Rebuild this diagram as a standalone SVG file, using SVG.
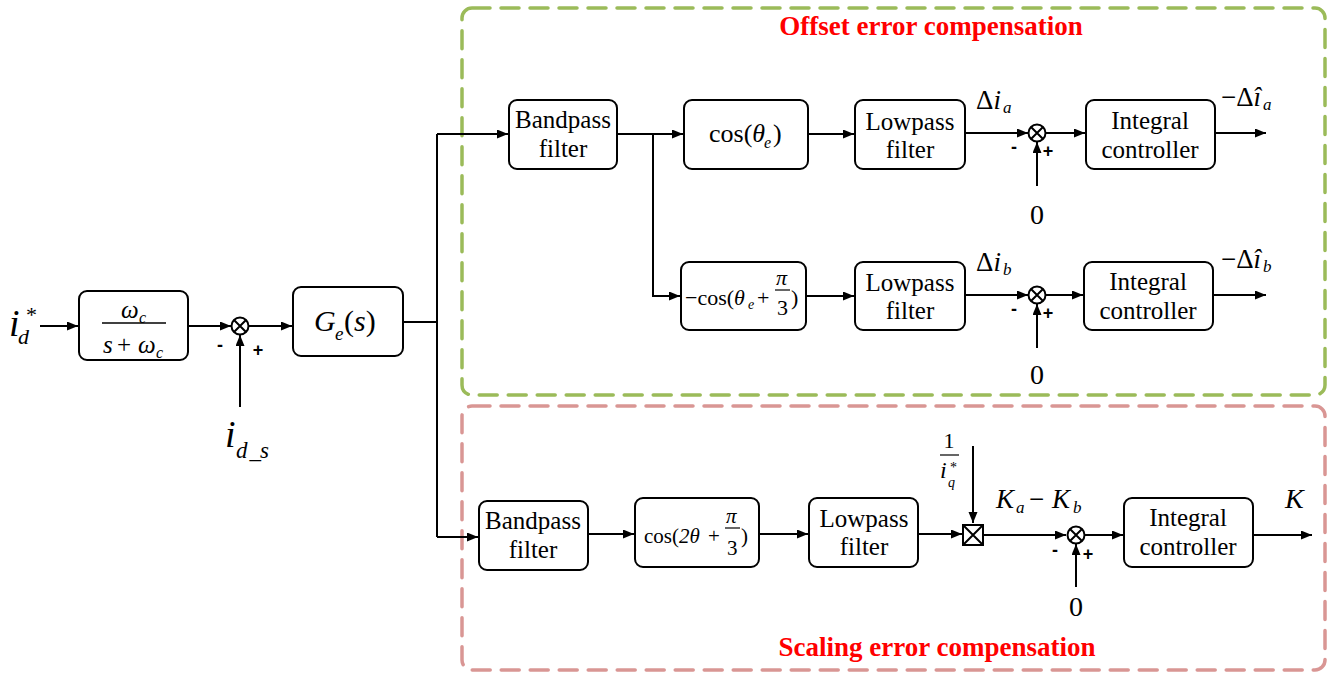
<svg xmlns="http://www.w3.org/2000/svg" width="1340" height="679" viewBox="0 0 1340 679">
  <defs>
    <marker id="arr" markerUnits="userSpaceOnUse" markerWidth="12" markerHeight="10" refX="11" refY="4.5" orient="auto">
      <path d="M0,0 L11,4.5 L0,9 z" fill="#000"/>
    </marker>
    <style>
      .blk { fill: #fff; stroke: #000; stroke-width: 2; }
      .ln { fill: none; stroke: #000; stroke-width: 2; }
      .ar { fill: none; stroke: #000; stroke-width: 2; marker-end: url(#arr); }
      .t { font-family: "Liberation Serif", "Times New Roman", serif; font-size: 25px; fill: #000; text-anchor: middle; }
      .m { font-family: "Liberation Serif", "Times New Roman", serif; fill: #000; }
      .it { font-style: italic; }
      .sg { font-family: "Liberation Sans", Arial, sans-serif; font-weight: bold; font-size: 18px; fill: #000; text-anchor: middle; }
      .ttl { font-family: "Liberation Serif", "Times New Roman", serif; font-weight: bold; font-size: 27px; fill: #ff0000; text-anchor: middle; }
      .zone-g { fill: none; stroke: #9bbb59; stroke-width: 3.5; stroke-dasharray: 18 11; stroke-linecap: round; }
      .zone-r { fill: none; stroke: #d99694; stroke-width: 3.5; stroke-dasharray: 18 11; stroke-linecap: round; }
    </style>
    <!-- summing junction: circle with a cross -->
    <g id="sum">
      <circle cx="0" cy="0" r="8.5" fill="#fff" stroke="#000" stroke-width="2"/>
      <path d="M-6,-6 L6,6 M6,-6 L-6,6" stroke="#000" stroke-width="2"/>
    </g>
  </defs>

  <rect width="1340" height="679" fill="#fff"/>

  <!-- compensation zones -->
  <g id="zone-offset">
    <rect class="zone-g" x="462" y="8" width="863" height="387" rx="10"/>
    <text class="ttl" x="931" y="35">Offset error compensation</text>
  </g>
  <g id="zone-scaling">
    <rect class="zone-r" x="462" y="406" width="863" height="264" rx="10"/>
    <text class="ttl" x="937" y="656">Scaling error compensation</text>
  </g>

  <!-- connectors -->
  <g id="connectors">
    <line class="ar" x1="40" y1="326" x2="78" y2="326"/>
    <line class="ar" x1="188" y1="326" x2="231" y2="326"/>
    <line class="ar" x1="240" y1="407" x2="240" y2="335"/>
    <line class="ar" x1="249" y1="326" x2="292" y2="326"/>
    <polyline class="ln" points="403,322 437,322"/>
    <line class="ln" x1="437" y1="134" x2="437" y2="537"/>
    <line class="ar" x1="437" y1="134" x2="508" y2="134"/>
    <line class="ar" x1="437" y1="537" x2="478" y2="537"/>

    <!-- upper branch -->
    <line class="ar" x1="617" y1="134" x2="683" y2="134"/>
    <polyline class="ar" points="653,134 653,296 680,296"/>
    <line class="ar" x1="808" y1="134" x2="854" y2="134"/>
    <line class="ar" x1="965" y1="133" x2="1028" y2="133"/>
    <line class="ar" x1="1037" y1="186" x2="1037" y2="142"/>
    <line class="ar" x1="1046" y1="133" x2="1085" y2="133"/>
    <line class="ar" x1="1215" y1="133" x2="1266" y2="133"/>

    <!-- lower branch -->
    <line class="ar" x1="806" y1="296" x2="854" y2="296"/>
    <line class="ar" x1="965" y1="295" x2="1028" y2="295"/>
    <line class="ar" x1="1037" y1="348" x2="1037" y2="304"/>
    <line class="ar" x1="1046" y1="295" x2="1083" y2="295"/>
    <line class="ar" x1="1213" y1="295" x2="1266" y2="295"/>

    <!-- scaling chain -->
    <line class="ar" x1="588" y1="534" x2="634" y2="534"/>
    <line class="ar" x1="759" y1="534" x2="808" y2="534"/>
    <line class="ar" x1="918" y1="534" x2="962" y2="534"/>
    <line class="ar" x1="973" y1="446" x2="973" y2="523"/>
    <line class="ar" x1="984" y1="535" x2="1066" y2="535"/>
    <line class="ar" x1="1076" y1="587" x2="1076" y2="544"/>
    <line class="ar" x1="1085" y1="535" x2="1123" y2="535"/>
    <line class="ar" x1="1253" y1="535" x2="1312" y2="535"/>
  </g>

  <!-- input reference -->
  <g id="in-idref">
    <text class="m it" x="9" y="336" font-size="38">i</text>
    <text class="m it" x="18" y="344" font-size="22">d</text>
    <text class="m" x="26" y="322" font-size="22">*</text>
  </g>

  <!-- first-order filter -->
  <g id="lpf-first">
    <rect class="blk" x="79" y="291" width="109" height="69" rx="8"/>
    <text class="m it" x="121" y="318" font-size="25">ω</text>
    <text class="m it" x="139" y="323" font-size="16">c</text>
    <line x1="102" y1="323" x2="166" y2="323" stroke="#000" stroke-width="1.5"/>
    <text class="m it" x="103" y="353" font-size="25">s</text>
    <text class="m" x="117" y="353" font-size="25">+</text>
    <text class="m it" x="138" y="353" font-size="25">ω</text>
    <text class="m it" x="156" y="358" font-size="16">c</text>
  </g>

  <!-- first junction -->
  <g id="sum-d">
    <use href="#sum" x="240" y="326"/>
    <text class="sg" x="220" y="351">-</text>
    <text class="sg" x="258" y="356">+</text>
  </g>

  <g id="in-ids">
    <text class="m it" x="225" y="447" font-size="38">i</text>
    <text class="m" x="236" y="458" font-size="23"><tspan font-style="italic">d</tspan><tspan dx="2">_</tspan><tspan font-style="italic" dx="-1">s</tspan></text>
  </g>

  <!-- plant -->
  <g id="plant-ge">
    <rect class="blk" x="293" y="287" width="110" height="69" rx="8"/>
    <text class="m it" x="314" y="331" font-size="30">G</text>
    <text class="m it" x="335" y="340" font-size="19">e</text>
    <text class="m" x="344" y="331" font-size="30">(<tspan font-style="italic">s</tspan>)</text>
  </g>

  <!-- offset path: bandpass -->
  <g id="bpf-offset">
    <rect class="blk" x="509" y="100" width="108" height="69" rx="8"/>
    <text class="t" x="563" y="128">Bandpass</text>
    <text class="t" x="563" y="157">filter</text>
  </g>

  <g id="demod-a">
    <rect class="blk" x="684" y="100" width="124" height="69" rx="8"/>
    <text class="m" x="709" y="142" font-size="26">cos(<tspan font-style="italic">θ</tspan></text>
    <text class="m it" x="764" y="148" font-size="16">e</text>
    <text class="m" x="773" y="142" font-size="26">)</text>
  </g>

  <g id="demod-b">
    <rect class="blk" x="681" y="262" width="125" height="68" rx="8"/>
    <text class="m" x="685" y="305" font-size="22">−cos(<tspan font-style="italic">θ</tspan></text>
    <text class="m it" x="748" y="309" font-size="14">e</text>
    <text class="m" x="757" y="305" font-size="22">+</text>
    <text class="m it" x="776" y="285" font-size="22">π</text>
    <line x1="775" y1="290" x2="790" y2="290" stroke="#000" stroke-width="1.2"/>
    <text class="m" x="777" y="315" font-size="22">3</text>
    <text class="m" x="791" y="305" font-size="22">)</text>
  </g>

  <g id="lpf-a">
    <rect class="blk" x="855" y="100" width="110" height="69" rx="8"/>
    <text class="t" x="910" y="130">Lowpass</text>
    <text class="t" x="910" y="158">filter</text>
  </g>

  <g id="lpf-b">
    <rect class="blk" x="855" y="262" width="110" height="68" rx="8"/>
    <text class="t" x="910" y="291">Lowpass</text>
    <text class="t" x="910" y="319">filter</text>
  </g>

  <g id="sum-a">
    <use href="#sum" x="1037" y="133"/>
    <text class="m" x="976" y="109" font-size="27">Δ<tspan font-style="italic">i</tspan></text>
    <text class="m it" x="1003" y="113" font-size="17">a</text>
    <text class="sg" x="1014" y="153">-</text>
    <text class="sg" x="1048" y="157">+</text>
    <text class="m" x="1037" y="224" font-size="28" text-anchor="middle">0</text>
  </g>

  <g id="sum-b">
    <use href="#sum" x="1037" y="295"/>
    <text class="m" x="976" y="271" font-size="27">Δ<tspan font-style="italic">i</tspan></text>
    <text class="m it" x="1003" y="275" font-size="17">b</text>
    <text class="sg" x="1014" y="315">-</text>
    <text class="sg" x="1048" y="319">+</text>
    <text class="m" x="1037" y="384" font-size="28" text-anchor="middle">0</text>
  </g>

  <g id="ic-a">
    <rect class="blk" x="1086" y="100" width="129" height="69" rx="8"/>
    <text class="t" x="1150" y="129">Integral</text>
    <text class="t" x="1150" y="158">controller</text>
  </g>

  <g id="ic-b">
    <rect class="blk" x="1084" y="262" width="129" height="68" rx="8"/>
    <text class="t" x="1148" y="290">Integral</text>
    <text class="t" x="1148" y="319">controller</text>
  </g>

  <g id="out-a">
    <text class="m" x="1221" y="106" font-size="27">−Δ<tspan font-style="italic">î</tspan></text>
    <text class="m it" x="1263" y="110" font-size="17">a</text>
  </g>

  <g id="out-b">
    <text class="m" x="1221" y="268" font-size="27">−Δ<tspan font-style="italic">î</tspan></text>
    <text class="m it" x="1263" y="272" font-size="17">b</text>
  </g>

  <!-- scaling path -->
  <g id="bpf-scaling">
    <rect class="blk" x="479" y="501" width="109" height="69" rx="8"/>
    <text class="t" x="533" y="529">Bandpass</text>
    <text class="t" x="533" y="558">filter</text>
  </g>

  <g id="demod-s">
    <rect class="blk" x="635" y="498" width="124" height="69" rx="8"/>
    <text class="m" x="644" y="543" font-size="21">cos(<tspan font-style="italic">2θ</tspan></text>
    <text class="m" x="708" y="543" font-size="21">+</text>
    <text class="m it" x="726" y="523" font-size="21">π</text>
    <line x1="725" y1="528" x2="740" y2="528" stroke="#000" stroke-width="1.2"/>
    <text class="m" x="727" y="555" font-size="21">3</text>
    <text class="m" x="741" y="543" font-size="21">)</text>
  </g>

  <g id="lpf-s">
    <rect class="blk" x="809" y="498" width="109" height="69" rx="8"/>
    <text class="t" x="864" y="527">Lowpass</text>
    <text class="t" x="864" y="555">filter</text>
  </g>

  <g id="mult">
    <rect x="963" y="525" width="20" height="20" fill="#fff" stroke="#000" stroke-width="2"/>
    <path d="M963,525 L983,545 M983,525 L963,545" stroke="#000" stroke-width="2"/>
    <text class="m" x="949" y="448" font-size="22" text-anchor="middle">1</text>
    <line x1="940" y1="455" x2="959" y2="455" stroke="#000" stroke-width="1.2"/>
    <text class="m it" x="940" y="478" font-size="24">i</text>
    <text class="m it" x="948" y="487" font-size="14">q</text>
    <text class="m" x="950" y="472" font-size="14">*</text>
  </g>

  <g id="sum-s">
    <use href="#sum" x="1076" y="535"/>
    <text class="m it" x="996" y="508" font-size="27">K</text>
    <text class="m it" x="1016" y="513" font-size="17">a</text>
    <text class="m" x="1029" y="508" font-size="27">−</text>
    <text class="m it" x="1052" y="508" font-size="27">K</text>
    <text class="m it" x="1073" y="513" font-size="17">b</text>
    <text class="sg" x="1055" y="556">-</text>
    <text class="sg" x="1088" y="560">+</text>
    <text class="m" x="1076" y="616" font-size="28" text-anchor="middle">0</text>
  </g>

  <g id="ic-s">
    <rect class="blk" x="1124" y="498" width="129" height="69" rx="8"/>
    <text class="t" x="1188" y="526">Integral</text>
    <text class="t" x="1188" y="555">controller</text>
  </g>

  <g id="out-k">
    <text class="m it" x="1285" y="508" font-size="28">K</text>
  </g>
</svg>
